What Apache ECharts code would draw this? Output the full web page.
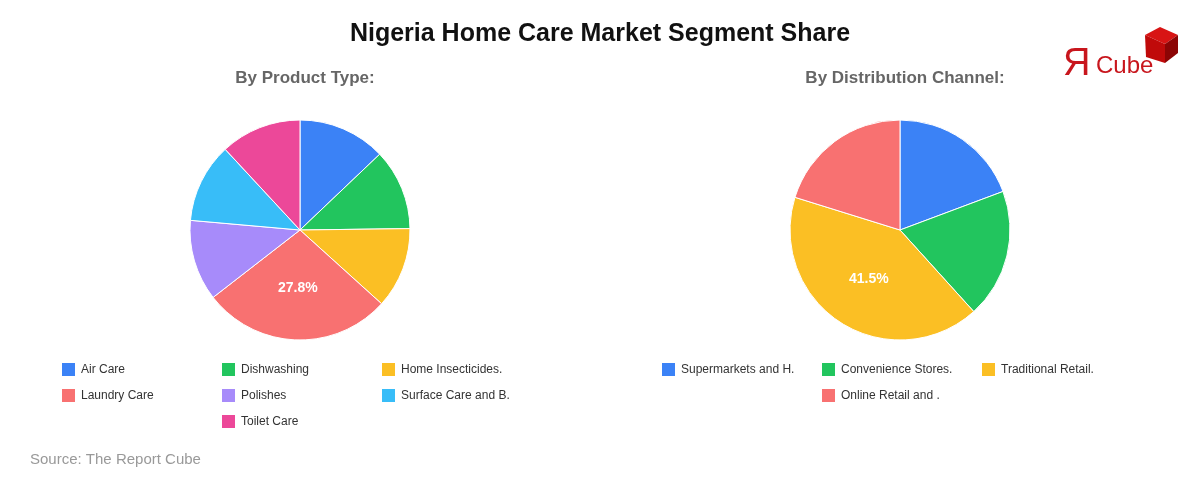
<!DOCTYPE html>
<html><head><meta charset="utf-8">
<script src="https://cdn.jsdelivr.net/npm/echarts@6/dist/echarts.min.js"></script>
<style>html,body{margin:0;padding:0;background:#fff}#c{width:1200px;height:480px}</style>
</head><body><div id="c"></div>
<script>
const productCategories = ['Air Care','Dishwashing','Home Insecticides.','Laundry Care','Polishes','Surface Care and B.','Toilet Care'];
const productValues = [12.9, 11.9, 11.9, 27.8, 11.9, 11.7, 11.9];
const productColors = ['#3b82f6','#22c55e','#fbbf24','#f87171','#a78bfa','#38bdf8','#ec4899'];
const channelCategories = ['Supermarkets and H.','Convenience Stores.','Traditional Retail.','Online Retail and .'];
const channelValues = [19.3, 19.0, 41.5, 20.2];
const channelColors = ['#3b82f6','#22c55e','#fbbf24','#f87171'];

const chart = echarts.init(document.getElementById('c'), null, {renderer:'canvas'});
const FONT = 'Liberation Sans, Arial, sans-serif';
function pieData(cats, vals, cols){ return cats.map((n,i)=>({name:n, value:vals[i], itemStyle:{color:cols[i]}})); }
const labelCfg = {show:true, position:'inside', color:'#fff', fontSize:14, fontWeight:'bold', fontFamily:FONT,
  formatter: p => p.percent >= 25 ? p.value.toFixed(1) + '%' : ''};
function legendItem(name, left, top){
  return {data:[name], left:left, top:top, padding:0, orient:'horizontal', itemWidth:15, itemHeight:15,
    icon:'rect', selectedMode:false,
    textStyle:{fontSize:12, color:'#333', fontFamily:FONT}};
}
// legend slots laid out in rows of three, last row centred on the middle column
function legendGrid(names, x0){
  const out = [];
  const rows = Math.ceil(names.length/3);
  names.forEach((n,i)=>{
    const r = Math.floor(i/3), c = i%3;
    const inRow = (r === rows-1) ? names.length - r*3 : 3;
    const col = inRow === 1 ? 1 : c;
    out.push(legendItem(n, x0 + col*160, 361 + r*26));
  });
  return out;
}
chart.setOption({
  animation:false,
  title:[
    {text:'Nigeria Home Care Market Segment Share', left:'center', top:17, textStyle:{fontSize:25, fontWeight:'bold', color:'#111', fontFamily:FONT}},
    {text:'By Product Type:', left:300, textAlign:'center', top:65, textStyle:{fontSize:17, fontWeight:'bold', color:'#666', fontFamily:FONT}},
    {text:'By Distribution Channel:', left:900, textAlign:'center', top:65, textStyle:{fontSize:17, fontWeight:'bold', color:'#666', fontFamily:FONT}},
    {text:'Source: The Report Cube', left:25, top:447, textStyle:{fontSize:15, fontWeight:'normal', color:'#999', fontFamily:FONT}}
  ],
  legend: legendGrid(productCategories, 60).concat(legendGrid(channelCategories, 660)),
  series:[
    {type:'pie', center:[300,230], radius:[0,110], startAngle:90, clockwise:true,
     itemStyle:{borderColor:'#fff', borderWidth:1}, label:labelCfg, labelLine:{show:false},
     emphasis:{disabled:true}, data:pieData(productCategories, productValues, productColors)},
    {type:'pie', center:[900,230], radius:[0,110], startAngle:90, clockwise:true,
     itemStyle:{borderColor:'#fff', borderWidth:1}, label:labelCfg, labelLine:{show:false},
     emphasis:{disabled:true}, data:pieData(channelCategories, channelValues, channelColors)}
  ],
  graphic:[
    {type:'text', left:1063, top:46, style:{text:'Я', fontSize:38, fill:'#c8161d', fontFamily:FONT}},
    {type:'text', left:1096, top:54, style:{text:'Cube', fontSize:24, fill:'#c8161d', fontFamily:FONT}},
    {type:'polygon', shape:{points:[[1145,35],[1160,27],[1178,35],[1165,44]]}, style:{fill:'#d81414'}},
    {type:'polygon', shape:{points:[[1145,35],[1165,44],[1165,63],[1146,57]]}, style:{fill:'#c00a0a'}},
    {type:'polygon', shape:{points:[[1165,44],[1178,35],[1178,53],[1165,63]]}, style:{fill:'#8c0505'}}
  ]
});
</script></body></html>
